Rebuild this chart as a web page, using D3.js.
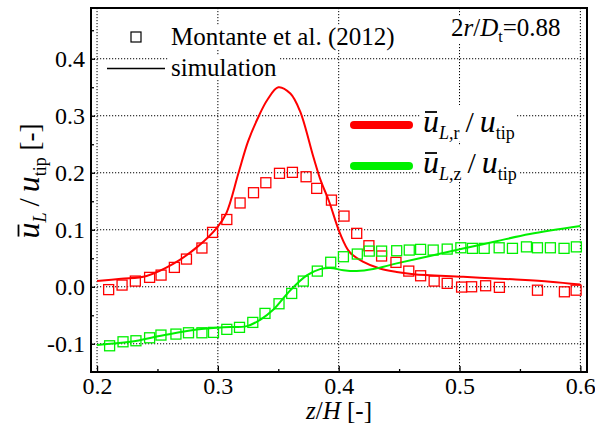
<!DOCTYPE html>
<html>
<head>
<meta charset="utf-8">
<script src="https://cdn.jsdelivr.net/npm/d3@7"></script>
<style>
  body { margin: 0; background: #fff; }
  svg { display: block; font-family: "Liberation Serif", "Times New Roman", serif; }
  svg text { font-family: "Liberation Serif", "Times New Roman", serif; }
</style>
</head>
<body>
<svg id="chart" width="595" height="426"></svg>
<script>
// experiment (Montante et al. 2012), radial component
const expZr = [0.2096, 0.2207, 0.2317, 0.2435, 0.253, 0.264, 0.274, 0.2868, 0.2956, 0.3074, 0.3184, 0.3295, 0.3397, 0.351, 0.3617, 0.373, 0.3818, 0.394, 0.4044, 0.4149, 0.425, 0.4355, 0.4474, 0.458, 0.4678, 0.479, 0.4898, 0.5017, 0.51, 0.5216, 0.533, 0.5645, 0.5868, 0.5965]
const expUr = [-0.005, 0.003, 0.010, 0.0165, 0.0205, 0.034, 0.0486, 0.068, 0.0954, 0.118, 0.147, 0.165, 0.1825, 0.199, 0.2007, 0.193, 0.1726, 0.152, 0.124, 0.0937, 0.072, 0.054, 0.0428, 0.0275, 0.0193, 0.010, 0.006, -0.0005, 0.0, 0.0018, -0.001, -0.006, -0.0088, -0.006]
// experiment, axial component
const expZz = [0.2104, 0.2215, 0.2322, 0.2435, 0.2529, 0.2653, 0.2757, 0.2868, 0.2964, 0.3074, 0.3179, 0.3289, 0.339, 0.3506, 0.3611, 0.3707, 0.3823, 0.3934, 0.4039, 0.4154, 0.4253, 0.4355, 0.448, 0.4584, 0.4678, 0.4782, 0.4898, 0.5011, 0.5107, 0.5204, 0.5328, 0.5438, 0.5554, 0.5645, 0.5752, 0.5865, 0.5967]
const expUz = [-0.1035, -0.0965, -0.0947, -0.0895, -0.0847, -0.083, -0.0807, -0.0807, -0.080, -0.0747, -0.0712, -0.0625, -0.0467, -0.0298, -0.0117, 0.010, 0.0275, 0.043, 0.0527, 0.0574, 0.0626, 0.0626, 0.0632, 0.0644, 0.0656, 0.0644, 0.0661, 0.0684, 0.0674, 0.0674, 0.0684, 0.0674, 0.070, 0.0684, 0.0684, 0.0674, 0.070]
// simulation curves
const simZr = [0.200, 0.220, 0.241, 0.263, 0.283, 0.299, 0.307, 0.317, 0.325, 0.334, 0.341, 0.350, 0.360, 0.368, 0.379, 0.385, 0.392, 0.401, 0.409, 0.420, 0.434, 0.448, 0.462, 0.503, 0.544, 0.575, 0.600]
const simUr = [0.010, 0.014, 0.019, 0.040, 0.070, 0.103, 0.129, 0.199, 0.255, 0.300, 0.328, 0.350, 0.339, 0.308, 0.228, 0.187, 0.150, 0.094, 0.061, 0.044, 0.032, 0.026, 0.022, 0.0175, 0.013, 0.009, 0.004]
const simZz = [0.200, 0.2275, 0.255, 0.2826, 0.3047, 0.324, 0.335, 0.346, 0.360, 0.3736, 0.3846, 0.393, 0.4038, 0.4149, 0.4286, 0.448, 0.4755, 0.503, 0.5306, 0.5582, 0.600]
const simUz = [-0.102, -0.0965, -0.085, -0.075, -0.071, -0.069, -0.058, -0.040, -0.006, 0.020, 0.031, 0.033, 0.029, 0.0275, 0.031, 0.041, 0.054, 0.067, 0.080, 0.0925, 0.1065]

const xTicks = [0.2, 0.3, 0.4, 0.5, 0.6]
const yTicks = [-0.1, 0.0, 0.1, 0.2, 0.3, 0.4]
const xMinor = [0.25, 0.35, 0.45, 0.55]
const yMinor = [-0.05, 0.05, 0.15, 0.25, 0.35, 0.45]

const red = '#ff0000'
const green = '#00f000'

let svg = d3.select('#chart')
let dims = { left: 91, right: 587, top: 8, bottom: 372 }

let xScale = d3.scaleLinear().domain([0.195, 0.6055]).range([dims.left, dims.right])
let yScale = d3.scaleLinear().domain([-0.1495, 0.489]).range([dims.bottom, dims.top])

// dotted grid
let grid = svg.append('g').attr('stroke', '#000').attr('stroke-width', 1).attr('stroke-dasharray', '1.2,1.8')
grid.selectAll('.gx').data(xTicks).enter().append('line')
  .attr('x1', d => xScale(d)).attr('x2', d => xScale(d))
  .attr('y1', dims.top).attr('y2', dims.bottom)
grid.selectAll('.gy').data(yTicks).enter().append('line')
  .attr('x1', dims.left).attr('x2', dims.right)
  .attr('y1', d => yScale(d)).attr('y2', d => yScale(d))

let bgLayer = svg.append('g')
let dataLayer = svg.append('g')
let legendLayer = svg.append('g')

// simulation lines
let line = d3.line().x(d => xScale(d[0])).y(d => yScale(d[1])).curve(d3.curveCatmullRom)
dataLayer.append('path').datum(d3.zip(simZr, simUr))
  .attr('d', line).attr('fill', 'none').attr('stroke', red).attr('stroke-width', 2)
dataLayer.append('path').datum(d3.zip(simZz, simUz))
  .attr('d', line).attr('fill', 'none').attr('stroke', green).attr('stroke-width', 2)

// experimental squares
let sq = 10
let drawSquares = (zs, us, color) => {
  dataLayer.append('g').selectAll('rect')
    .data(d3.zip(zs, us))
    .enter()
    .append('rect')
    .attr('x', d => xScale(d[0]) - sq / 2)
    .attr('y', d => yScale(d[1]) - sq / 2)
    .attr('width', sq).attr('height', sq)
    .attr('fill', 'none').attr('stroke', color).attr('stroke-width', 1.3)
}
drawSquares(expZr, expUr, red)
drawSquares(expZz, expUz, green)

// axes frame
let axes = svg.append('g')
axes.append('rect')
  .attr('x', dims.left).attr('y', dims.top)
  .attr('width', dims.right - dims.left).attr('height', dims.bottom - dims.top)
  .attr('fill', 'none').attr('stroke', '#000').attr('stroke-width', 2)

let xAxis = d3.axisBottom(xScale).tickValues(xTicks).tickSizeInner(-6).tickSizeOuter(0).tickFormat(d3.format('.1f'))
let xAxisMinor = d3.axisBottom(xScale).tickValues(xMinor).tickSizeInner(-3).tickSizeOuter(0).tickFormat('')
let yAxis = d3.axisLeft(yScale).tickValues(yTicks).tickSizeInner(-4).tickSizeOuter(0)
  .tickFormat(d => d3.format('.1f')(d).replace('−', '-'))
let yAxisMinor = d3.axisLeft(yScale).tickValues(yMinor).tickSizeInner(-3).tickSizeOuter(0).tickFormat('')

let styleAxis = g => {
  g.attr('font-family', null).attr('font-size', null)
  g.select('.domain').remove()
  g.selectAll('line').attr('stroke', '#000').attr('stroke-width', 1.3)
  g.selectAll('text').attr('fill', '#000')
    .style('font-family', '"Liberation Serif", "Times New Roman", serif')
    .style('font-size', '24px')
}
axes.append('g').attr('transform', `translate(0,${dims.bottom})`).call(xAxis).call(styleAxis)
  .selectAll('text').attr('y', 22).attr('dy', 0)
axes.append('g').attr('transform', `translate(0,${dims.bottom})`).call(xAxisMinor).call(styleAxis)
axes.append('g').attr('transform', `translate(${dims.left},0)`).call(yAxis).call(styleAxis)
  .selectAll('text').attr('x', -6).attr('dy', 8)
axes.append('g').attr('transform', `translate(${dims.left},0)`).call(yAxisMinor).call(styleAxis)

// axis titles
let xTitle = svg.append('text').attr('x', (dims.left + dims.right) / 2).attr('y', 419)
  .attr('text-anchor', 'middle').style('font-size', '25px')
xTitle.append('tspan').attr('font-style', 'italic').text('z')
xTitle.append('tspan').text('/')
xTitle.append('tspan').attr('font-style', 'italic').text('H')
xTitle.append('tspan').text(' [-]')

// composite label u-bar_{sub} / u_tip
let uLabel = (parent, subParts, tail) => {
  let t = parent.append('text')
  t.append('tspan').attr('font-style', 'italic').style('font-size', '32px').text('u')
  let s = t.append('tspan').attr('dy', 7).style('font-size', '18px')
  subParts.forEach(p => s.append('tspan').attr('font-style', p[1] ? 'italic' : 'normal').text(p[0]))
  t.append('tspan').attr('dy', -7).attr('dx', 6).style('font-size', '30px').text('/')
  t.append('tspan').attr('dx', 6).attr('font-style', 'italic').style('font-size', '32px').text('u')
  t.append('tspan').attr('dy', 7).style('font-size', '18px').text('tip')
  if (tail) t.append('tspan').attr('dy', -7).style('font-size', '27px').text(tail)
  return t
}
let addBar = (parent, t, baseline) => {
  let ext = t.node().getExtentOfChar(0)
  parent.append('line')
    .attr('x1', ext.x + 2).attr('x2', ext.x + ext.width - 2)
    .attr('y1', baseline - 20).attr('y2', baseline - 20)
    .attr('stroke', '#000').attr('stroke-width', 1.8)
}

let yTitleG = svg.append('g').attr('transform', 'translate(38.5,181) rotate(-90)')
let yTitle = uLabel(yTitleG, [['L', true]], ' [-]').attr('text-anchor', 'middle')
addBar(yTitleG, yTitle, 0)

// legend with white backing so grid is hidden behind text
let withBg = (t, pad) => {
  let b = t.node().getBBox()
  bgLayer.append('rect').attr('x', b.x - pad).attr('y', b.y + 2).attr('width', b.width + 2 * pad).attr('height', b.height - 4)
    .attr('fill', '#fff')
}

legendLayer.append('rect').attr('x', 131).attr('y', 32).attr('width', sq).attr('height', sq)
  .attr('fill', 'none').attr('stroke', '#000').attr('stroke-width', 1.2)
let l1 = legendLayer.append('text').attr('x', 171).attr('y', 45).style('font-size', '25px').text('Montante et al. (2012)')
withBg(l1, 2)
legendLayer.append('line').attr('x1', 107).attr('x2', 165).attr('y1', 68.5).attr('y2', 68.5)
  .attr('stroke', '#000').attr('stroke-width', 1.4)
let l2 = legendLayer.append('text').attr('x', 171).attr('y', 76).style('font-size', '25px').text('simulation')
withBg(l2, 2)

let note = legendLayer.append('text').attr('x', 451).attr('y', 36).style('font-size', '25px')
note.append('tspan').text('2')
note.append('tspan').attr('font-style', 'italic').text('r')
note.append('tspan').text('/')
note.append('tspan').attr('font-style', 'italic').text('D')
note.append('tspan').attr('dy', 6).style('font-size', '16px').text('t')
note.append('tspan').attr('dy', -6).text('=0.88')
withBg(note, 2)

let legendItems = [
  { color: red, y: 125, base: 132, sub: [['L,', true], ['r', false]] },
  { color: green, y: 166, base: 173, sub: [['L,', true], ['z', false]] }
]
legendItems.forEach(item => {
  legendLayer.append('line').attr('x1', 354).attr('x2', 409).attr('y1', item.y).attr('y2', item.y)
    .attr('stroke', item.color).attr('stroke-width', 8).attr('stroke-linecap', 'round')
  let g = legendLayer.append('g').attr('transform', `translate(423,${item.base})`)
  let t = uLabel(g, item.sub, null)
  addBar(g, t, 0)
  let b = t.node().getBBox()
  bgLayer.append('rect').attr('x', 423 + b.x - 2).attr('y', item.base + b.y + 2)
    .attr('width', b.width + 4).attr('height', b.height - 4).attr('fill', '#fff')
})
</script>
</body>
</html>
